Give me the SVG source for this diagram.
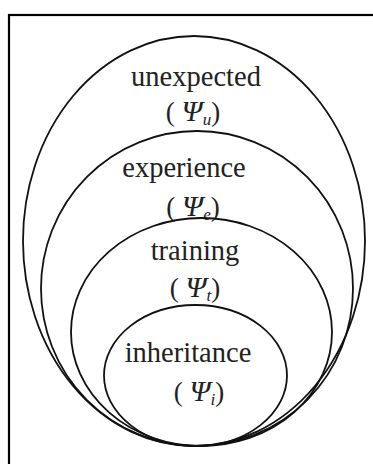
<svg xmlns="http://www.w3.org/2000/svg" width="373" height="464" viewBox="0 0 373 464">
<style>
.ring{fill:none;stroke:#111;stroke-width:1.8}
.lbl{font-family:"Liberation Serif","Times New Roman",serif;font-size:28.5px;fill:#222;text-anchor:middle}
.sym{font-family:"Liberation Serif","Times New Roman",serif;font-size:27px;fill:#222;text-anchor:middle}
.it{font-style:italic;font-size:30px}
.sub{font-style:italic;font-size:17px}
</style>
<rect x="0" y="0" width="373" height="464" fill="#fff"/>
<rect x="9" y="15" width="420" height="520" fill="none" stroke="#000" stroke-width="2.2"/>
<g id="unexpected">
<ellipse class="ring" cx="194" cy="241" rx="171" ry="205"/>
<text class="lbl" x="196" y="86">unexpected</text>
<text class="sym" x="193" y="121">( <tspan class="it">Ψ</tspan><tspan class="sub" dy="4">u</tspan><tspan dy="-4">)</tspan></text>
</g>
<g id="experience">
<ellipse class="ring" cx="197" cy="288.5" rx="156" ry="157.5"/>
<text class="lbl" x="184" y="177">experience</text>
<text class="sym" x="193" y="216">( <tspan class="it">Ψ</tspan><tspan class="sub" dy="4">e</tspan><tspan dy="-4">)</tspan></text>
</g>
<g id="training">
<ellipse class="ring" cx="201.5" cy="332" rx="130.5" ry="114"/>
<text class="lbl" x="195" y="260">training</text>
<text class="sym" x="195" y="297">( <tspan class="it">Ψ</tspan><tspan class="sub" dy="4">t</tspan><tspan dy="-4">)</tspan></text>
</g>
<g id="inheritance">
<ellipse class="ring" cx="195.5" cy="375.5" rx="91.5" ry="70.5"/>
<text class="lbl" x="188" y="362">inheritance</text>
<text class="sym" x="199" y="401">( <tspan class="it">Ψ</tspan><tspan class="sub" dy="4">i</tspan><tspan dy="-4">)</tspan></text>
</g>
<g id="connectors"/>
</svg>
